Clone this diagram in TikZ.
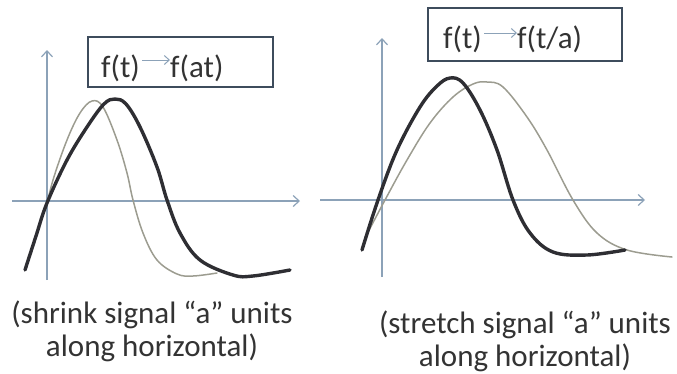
\documentclass[tikz,border=0pt]{standalone}
\usepackage{fontspec}
\setmainfont{Carlito}
\usetikzlibrary{arrows.meta}
\definecolor{axiscol}{HTML}{8CA2B8}
\definecolor{boxcol}{HTML}{3E4C5C}
\definecolor{thickcol}{HTML}{2E2E33}
\definecolor{thincol}{HTML}{9C9C90}
\definecolor{txtcol}{HTML}{333333}
\tikzset{
  axisline/.style={draw=axiscol, line width=1.2pt, -{Straight Barb[length=6pt,width=11pt,line width=1.2pt]}},
  formbox/.style={draw=boxcol, line width=2pt, rectangle, inner sep=0pt},
  formtext/.style={text=txtcol, font=\fontsize{31}{33}\selectfont, inner sep=0pt, anchor=base west},
  formarrow/.style={draw=axiscol, line width=1pt, -{Straight Barb[length=5pt,width=9pt,line width=1pt]}},
  thickcurve/.style={draw=thickcol, line width=3.4pt, line cap=round},
  thincurve/.style={draw=thincol, line width=1.5pt, line cap=round},
  caption/.style={text=txtcol, font=\fontsize{31}{33}\selectfont, align=center, inner sep=0pt}
}
\begin{document}
\begin{tikzpicture}[x=1pt,y=-1pt]
\useasboundingbox (0,0) rectangle (677,373);
% ---------- left panel ----------
\coordinate (lyb) at (47,280);
\coordinate (lyt) at (47,50);
\coordinate (lxl) at (12,201);
\coordinate (lxr) at (300,201);
\draw[axisline] (lyb) -- (lyt);
\draw[axisline] (lxl) -- (lxr);
\draw[thincurve] plot[smooth, tension=0.6] coordinates {(46,209) (53,180) (67,140) (80,113) (92,101) (103,107) (117,140) (127,173) (133,200) (143,233) (157,260) (177,274) (193,276) (217,273)};
\draw[thickcurve] plot[smooth, tension=0.6] coordinates {(25,270) (36,236) (47,203) (67,160) (87,127) (104,104) (115,99) (126,104) (140,127) (157,167) (167,200) (180,233) (200,260) (233,275) (253,276) (290,270)};
\node[formbox, minimum width=185pt, minimum height=50pt] (boxL) at (180.5,62) {};
\node[formtext] (fL) at (101,77) {f(t)};
\node[formtext] (gL) at (170,77) {f(at)};
\coordinate (aLy) at (0,60);
\coordinate (aLs) at ([xshift=2pt]fL.east |- aLy);
\draw[formarrow] (aLs) -- (gL.west |- aLy);
% ---------- right panel ----------
\coordinate (ryb) at (382,277);
\coordinate (ryt) at (382,38);
\coordinate (rxl) at (320,200);
\coordinate (rxr) at (645,200);
\draw[axisline] (ryb) -- (ryt);
\draw[axisline] (rxl) -- (rxr);
\draw[thincurve] plot[smooth, tension=0.6] coordinates {(365,238) (385,200) (407,160) (430,123) (453,97) (473,84) (487,82) (503,87) (527,117) (547,150) (573,200) (597,233) (627,250) (672,257)};
\draw[thickcurve] plot[smooth, tension=0.6] coordinates {(362,250) (378,200) (397,150) (420,107) (437,86) (450,78) (463,83) (480,110) (497,150) (513,200) (530,233) (553,252) (587,255) (625,250)};
\node[formbox, minimum width=194pt, minimum height=53pt] (boxR) at (525,34.5) {};
\node[formtext] (fR) at (443,48) {f(t)};
\node[formtext] (gR) at (517,48) {f(t/a)};
\coordinate (aRy) at (0,33);
\coordinate (aRs) at ([xshift=2pt]fR.east |- aRy);
\draw[formarrow] (aRs) -- (gR.west |- aRy);
% ---------- captions ----------
\node[caption] (capL) at (152,331) {(shrink signal “a” units\\along horizontal)};
\node[caption] (capR) at (525,341) {(stretch signal “a” units\\along horizontal)};
\end{tikzpicture}
\end{document}
